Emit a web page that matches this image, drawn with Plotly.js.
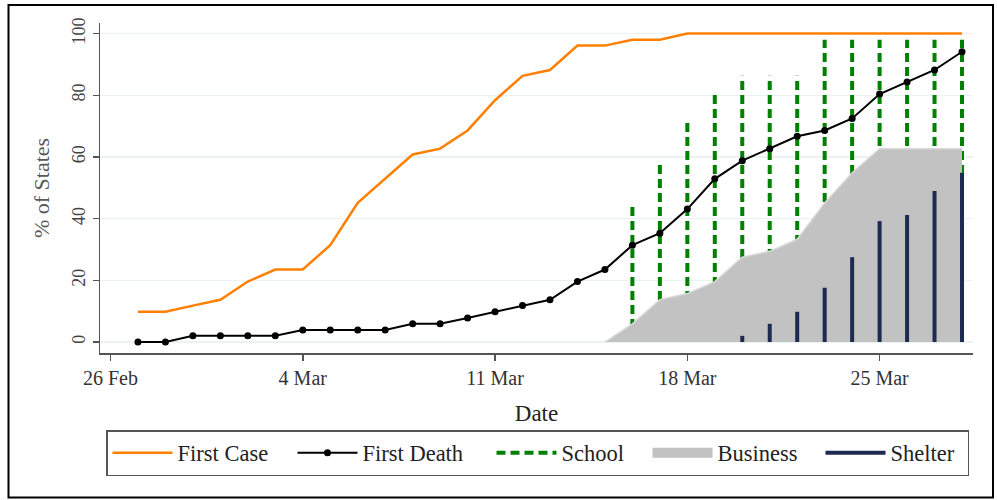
<!DOCTYPE html>
<html>
<head>
<meta charset="utf-8">
<script src="https://cdn.plot.ly/plotly-3.0.1.min.js"></script>
<style>
html,body{margin:0;padding:0;background:#fff;}
#chart{width:997px;height:500px;}
</style>
</head>
<body>
<div id="chart"></div>
<script>
// ---- data (percent of 51 states) ----
var dates = ['2020-02-27','2020-02-28','2020-02-29','2020-03-01','2020-03-02','2020-03-03','2020-03-04',
  '2020-03-05','2020-03-06','2020-03-07','2020-03-08','2020-03-09','2020-03-10','2020-03-11',
  '2020-03-12','2020-03-13','2020-03-14','2020-03-15','2020-03-16','2020-03-17','2020-03-18',
  '2020-03-19','2020-03-20','2020-03-21','2020-03-22','2020-03-23','2020-03-24','2020-03-25',
  '2020-03-26','2020-03-27','2020-03-28'];
var firstCase = [9.8,9.8,11.8,13.7,19.6,23.5,23.5,31.4,45.1,52.9,60.8,62.7,68.6,78.4,86.3,88.2,96.1,96.1,
  98.0,98.0,100,100,100,100,100,100,100,100,100,100,100];
var firstDeath = [0,0,2.0,2.0,2.0,2.0,3.9,3.9,3.9,3.9,5.9,5.9,7.8,9.8,11.8,13.7,19.6,23.5,31.4,35.3,43.1,
  52.9,58.8,62.7,66.7,68.6,72.5,80.4,84.3,88.2,94.1];
var schoolDates = ['2020-03-16','2020-03-17','2020-03-18','2020-03-19','2020-03-20','2020-03-21','2020-03-22',
  '2020-03-23','2020-03-24','2020-03-25','2020-03-26','2020-03-27','2020-03-28'];
var school = [45.1,58.8,72.5,80.4,86.3,86.3,86.3,98.0,98.0,98.0,98.0,98.0,98.0];
var businessDates = ['2020-03-15','2020-03-16','2020-03-17','2020-03-18','2020-03-19','2020-03-20','2020-03-21',
  '2020-03-22','2020-03-23','2020-03-24','2020-03-25','2020-03-26','2020-03-27','2020-03-28'];
var business = [0,5.9,13.7,15.7,19.6,27.5,29.4,33.3,45.1,54.9,62.7,62.7,62.7,62.7];
var shelterDates = ['2020-03-20','2020-03-21','2020-03-22','2020-03-23','2020-03-24','2020-03-25',
  '2020-03-26','2020-03-27','2020-03-28'];
var shelter = [2.0,5.9,9.8,17.6,27.5,39.2,41.2,49.0,54.9];
var xTickVals = ['2020-02-26','2020-03-04','2020-03-11','2020-03-18','2020-03-25'];
var xTickText = ['26 Feb','4 Mar','11 Mar','18 Mar','25 Mar'];
var yTickVals = [0,20,40,60,80,100];

// vertical spikes from 0 to value
function spikes(xs, ys){
  var X=[],Y=[];
  for(var i=0;i<xs.length;i++){X.push(xs[i],xs[i],null);Y.push(0,ys[i],null);}
  return {x:X,y:Y};
}
var sch = spikes(schoolDates, school);
var shl = spikes(shelterDates, shelter);

var FONT = 'Liberation Serif, Times New Roman, serif';
var GREY = '#c2c2c2';
var traces = [
  {x:sch.x,y:sch.y,mode:'lines',name:'School',legendrank:3,legendwidth:81,
   line:{color:'#008000',width:4,dash:'9px,5px'},hoverinfo:'skip'},
  {x:businessDates,y:business,mode:'lines',name:'Business',showlegend:false,fill:'tozeroy',
   fillcolor:GREY,line:{color:'#d8d8d8',width:1.5}},
  // legend key for the Business area
  {x:[null],y:[null],mode:'lines',name:'Business',legendrank:4,legendwidth:98,
   line:{color:GREY,width:16}},
  {x:shl.x,y:shl.y,mode:'lines',name:'Shelter',legendrank:5,legendwidth:72,
   line:{color:'#1e2b50',width:4},hoverinfo:'skip'},
  {x:dates,y:firstCase,mode:'lines',name:'First Case',legendrank:1,legendwidth:110,
   line:{color:'#ff8000',width:2.5}},
  {x:dates,y:firstDeath,mode:'lines+markers',name:'First Death',legendrank:2,legendwidth:124,
   line:{color:'#000000',width:2},marker:{color:'#000000',size:7}}
];

// plot area in pixels
var L=100,R=24,T=23,B=147,W=997,H=500;
var pw=W-L-R, ph=H-T-B;
function px2x(p){return (p-L)/pw;}
function px2y(p){return (H-B-p)/ph;}

var layout = {
  width:W,height:H,
  margin:{l:L,r:R,t:T,b:B,pad:0},
  paper_bgcolor:'#ffffff',plot_bgcolor:'#ffffff',
  font:{family:FONT,color:'#333333'},
  showlegend:true,
  xaxis:{type:'date',range:['2020-02-25 14:50','2020-03-28 09:36'],
    tickmode:'array',tickvals:xTickVals,ticktext:xTickText,
    showgrid:false,zeroline:false,showline:true,linecolor:'#555555',linewidth:1.5,
    ticks:'outside',ticklen:6,tickwidth:1.5,tickcolor:'#555555',
    tickfont:{family:FONT,size:20,color:'#333333'},
    title:{text:'Date',font:{family:FONT,size:23,color:'#222222'},standoff:17},
    automargin:false},
  yaxis:{range:[-3.56,103.43],tickmode:'array',tickvals:yTickVals,tickangle:-90,
    showgrid:true,gridcolor:'#eaf2f3',gridwidth:1.5,zeroline:false,
    showline:true,linecolor:'#555555',linewidth:1.5,
    ticks:'outside',ticklen:6,tickwidth:1.5,tickcolor:'#555555',
    tickfont:{family:FONT,size:18,color:'#444444'},
    title:{text:'% of States',font:{family:FONT,size:22,color:'#595959'},standoff:13},
    automargin:false},
  legend:{orientation:'h',x:px2x(106),xanchor:'left',y:px2y(430),yanchor:'top',
    bordercolor:'#555555',borderwidth:1.5,bgcolor:'#ffffff',
    font:{family:FONT,size:22.5,color:'#222222'},itemwidth:60,traceorder:'normal'},
  shapes:[{type:'rect',xref:'paper',yref:'paper',
    x0:px2x(8.5),x1:px2x(993),y0:px2y(497.5),y1:px2y(5),
    line:{color:'#000000',width:2},fillcolor:'rgba(0,0,0,0)',layer:'above'}]
};

Plotly.newPlot('chart',traces,layout,{displayModeBar:false,staticPlot:true});
</script>
</body>
</html>
